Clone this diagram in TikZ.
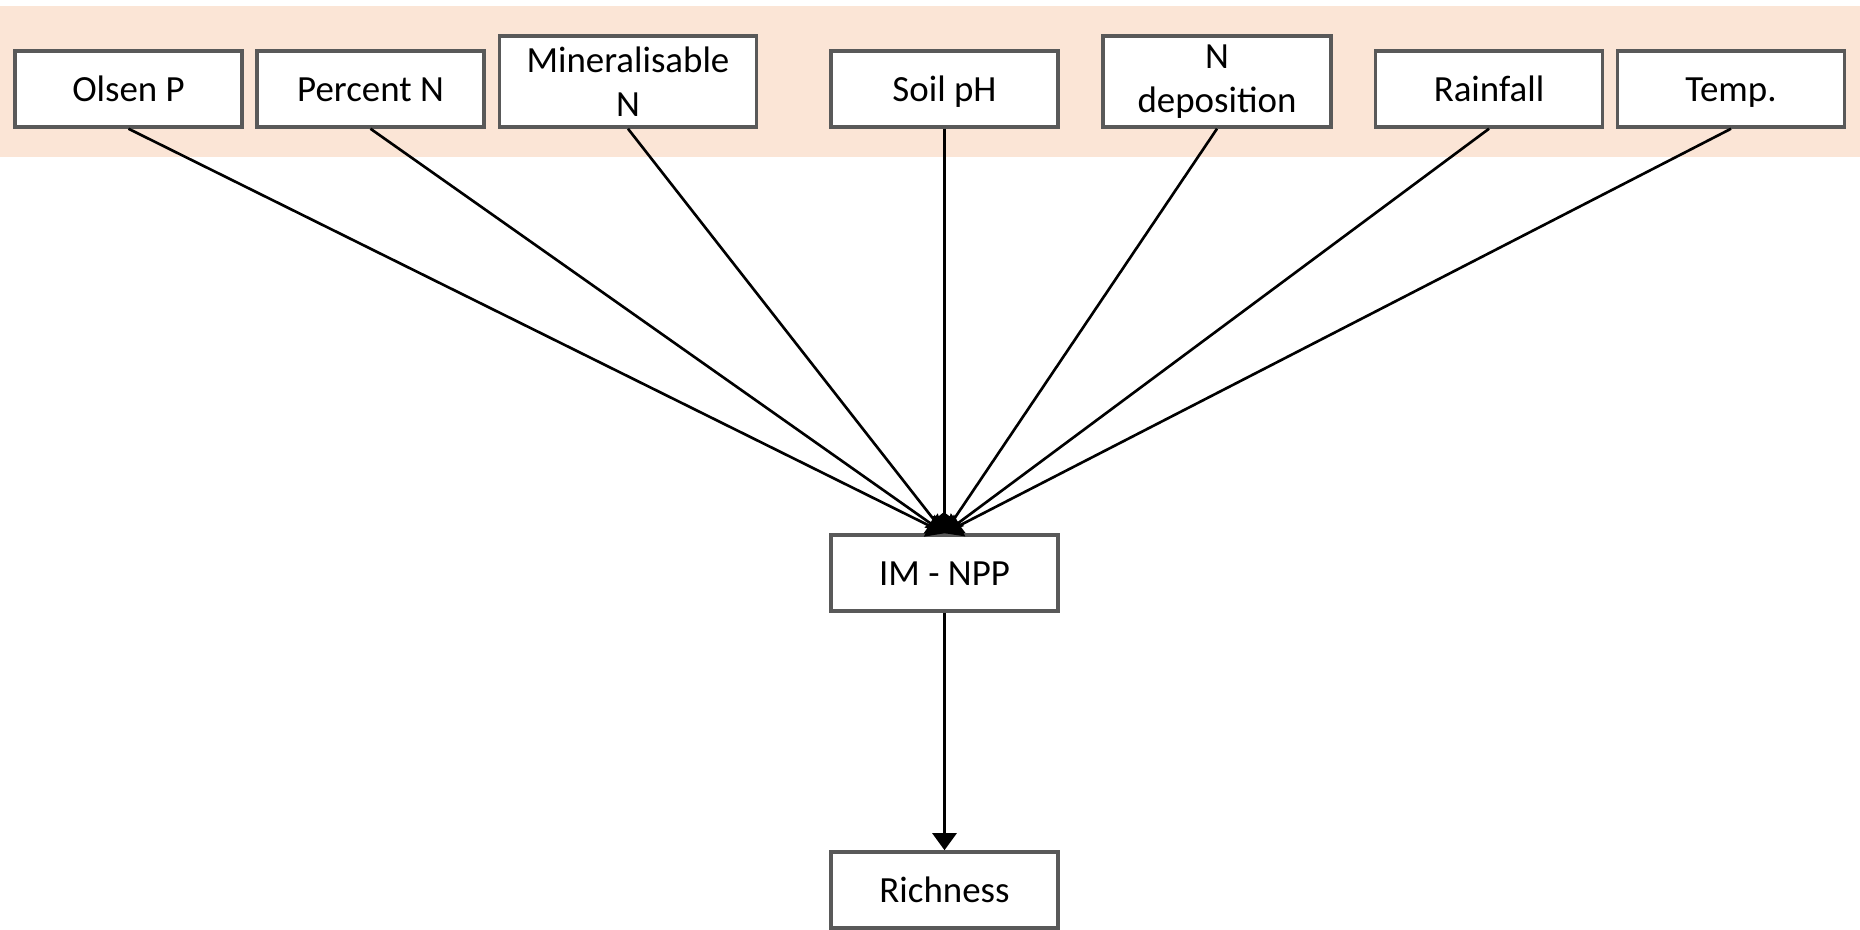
\documentclass[tikz,border=0pt]{standalone}
\usepackage{fontspec}
\setmainfont{Carlito}
\usepackage{tikz}
\usetikzlibrary{arrows.meta, positioning}
\definecolor{bandpeach}{HTML}{FBE5D6}
\definecolor{boxgray}{HTML}{595959}

\begin{document}
\begin{tikzpicture}[
	basebox/.style = {draw=boxgray, line width=2pt, fill=white, inner sep=0pt,
		minimum width=4.54cm, align=center,
		font=\fontsize{21}{25}\selectfont},
	varbox/.style = {basebox, minimum height=1.52cm, text height=16pt, text depth=2pt},
	tallbox/.style = {basebox, minimum height=1.82cm},
	link/.style = {line width=1.5pt, black, -{Triangle[length=0.34cm, width=0.48cm]}}]
	\useasboundingbox (0,0) rectangle (37.2,18.6);
	\fill[bandpeach] (0,15.46) rectangle (37.2,18.48);
	% drivers along the top
	\node[varbox] (olsen) at (2.57,16.82) {Olsen P};
	\node[varbox] (pcn) at (7.41,16.82) {Percent N};
	\node[tallbox, minimum width=5.14cm] (minn) at (12.56,16.97) {Mineralisable\\N};
	\node[varbox] (ph) at (18.89,16.82) {Soil pH};
	\node[tallbox, minimum width=4.56cm] (ndep) at (24.34,16.97) {N\\deposition};
	\node[varbox] (rain) at (29.78,16.82) {Rainfall};
	\node[varbox] (temp) at (34.62,16.82) {Temp.};
	% middle and response
	\node[varbox] (npp) at (18.89,7.14) {IM - NPP};
	\node[varbox] (rich) at (18.89,0.8) {Richness};
	\foreach \v in {olsen, pcn, minn, ph, ndep, rain, temp}
		\draw[link] (\v.south) -- (npp.north);
	\draw[link] (npp.south) -- (rich.north);
\end{tikzpicture}
\end{document}
